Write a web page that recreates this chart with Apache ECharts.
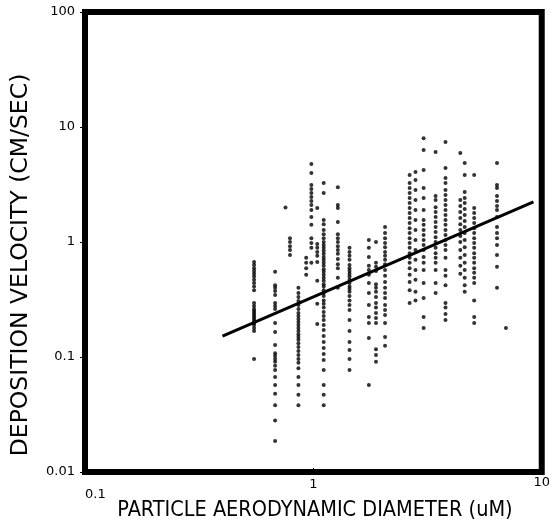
<!DOCTYPE html>
<html>
<head>
<meta charset="utf-8">
<script src="https://cdn.jsdelivr.net/npm/echarts@6/dist/echarts.min.js"></script>
<style>html,body{margin:0;padding:0;background:#fff;}#c{width:553px;height:528px;}</style>
</head>
<body>
<div id="c"></div>
<script>
// Particle aerodynamic diameter (uM) for each column of measurements
const diameters = [0.55, 0.68, 0.79, 0.93, 0.86, 0.755, 0.98, 1.04, 1.11, 1.28, 1.44, 1.75, 1.88, 2.06, 2.64, 2.8, 3.04, 3.43, 3.79, 4.4, 4.6, 5.06, 6.37, 6.97];
// Deposition velocity (cm/sec) values for each column
const velocities = [
  [0.67,0.63,0.59,0.56,0.53,0.50,0.47,0.44,0.41,0.38,0.295,0.277,0.261,0.251,0.241,0.232,0.223,0.214,0.206,0.198,0.19,0.179,0.168,0.096],
  [0.55,0.42,0.40,0.375,0.346,0.295,0.277,0.261,0.198,0.165,0.127,0.108,0.102,0.096,0.091,0.084,0.077,0.067,0.057,0.048,0.038,0.028,0.0186],
  [1.08,1.0,0.92,0.85,0.77],
  [0.73,0.66,0.59,0.52],
  [0.40,0.36,0.333,0.307,0.283,0.261,0.241,0.227,0.214,0.202,0.19,0.179,0.168,0.158,0.149,0.141,0.132,0.122,0.113,0.104,0.096,0.089,0.080,0.067,0.057,0.047,0.038],
  [2.0],
  [4.77,3.98,3.13,2.89,2.67,2.46,2.27,2.10,1.90,1.65,1.41,1.08,0.98,0.89,0.66],
  [1.98,0.96,0.89,0.82,0.76,0.67,0.46,0.29,0.194],
  [3.26,2.67,1.55,1.43,1.27,1.17,1.08,1.0,0.94,0.89,0.84,0.79,0.74,0.70,0.66,0.62,0.58,0.55,0.52,0.49,0.46,0.43,0.41,0.38,0.36,0.34,0.31,0.29,0.27,0.246,0.227,0.21,0.19,0.172,0.152,0.135,0.12,0.106,0.094,0.077,0.057,0.047,0.038],
  [3.0,2.10,1.98,1.49,1.17,1.08,1.0,0.92,0.85,0.79,0.71,0.64,0.59,0.49,0.40],
  [0.89,0.82,0.76,0.70,0.63,0.59,0.56,0.53,0.50,0.47,0.44,0.41,0.39,0.37,0.34,0.31,0.283,0.256,0.21,0.168,0.135,0.115,0.096,0.077],
  [1.04,0.89,0.74,0.62,0.57,0.52,0.44,0.36,0.283,0.223,0.198,0.146,0.057],
  [1.0,0.66,0.61,0.56,0.43,0.40,0.37,0.333,0.295,0.27,0.241,0.218,0.198,0.117,0.104,0.091],
  [1.35,1.2,1.08,0.98,0.90,0.82,0.76,0.70,0.64,0.57,0.51,0.45,0.40,0.36,0.326,0.283,0.256,0.232,0.198,0.149,0.125],
  [3.83,3.26,2.95,2.67,2.41,2.18,1.98,1.79,1.62,1.46,1.32,1.2,1.08,0.98,0.89,0.80,0.73,0.66,0.59,0.52,0.45,0.38,0.295],
  [4.06,3.46,2.83,2.32,1.90,1.55,1.27,1.04,0.85,0.70,0.57,0.47,0.37,0.31],
  [8.0,6.3,4.23,2.95,2.41,1.90,1.55,1.41,1.27,1.15,1.04,0.94,0.85,0.74,0.66,0.57,0.44,0.326,0.223,0.179],
  [6.06,2.51,2.32,2.01,1.82,1.65,1.49,1.35,1.22,1.10,1.0,0.89,0.80,0.73,0.66,0.57,0.44,0.36],
  [7.4,4.4,3.6,3.26,2.83,2.56,2.32,2.10,1.90,1.72,1.55,1.41,1.27,1.15,1.04,0.94,0.85,0.73,0.57,0.51,0.42,0.295,0.27,0.237,0.21],
  [5.94,2.32,2.06,1.82,1.62,1.43,1.27,1.13,1.0,0.85,0.73,0.62,0.53],
  [4.86,3.83,2.72,2.41,2.18,1.94,1.72,1.52,1.35,1.20,1.04,0.90,0.77,0.66,0.57,0.49,0.42,0.37],
  [3.83,1.98,1.79,1.62,1.46,1.32,1.2,1.08,0.98,0.89,0.80,0.73,0.66,0.59,0.54,0.49,0.44,0.31,0.223,0.198],
  [4.86,3.13,2.95,2.51,2.27,2.06,1.90,1.65,1.35,1.2,1.08,0.94,0.77,0.61,0.40],
  [0.179]
];
// Regression line end points
const fitX = [0.4, 9.2];
const fitY = [0.152, 2.23];
// Tick labels
const xTicks = ['0.1', '1', '10'];
const yTicks = ['0.01', '0.1', '1', '10', '100'];

const points = [];
diameters.forEach((d, i) => velocities[i].forEach(v => points.push([d, v])));
const fitLine = fitX.map((x, i) => [x, fitY[i]]);

const chart = echarts.init(document.getElementById('c'), null, {renderer: 'canvas'});
const labelFont = "'DejaVu Sans', sans-serif";
const xTitleFont = "'Liberation Sans Narrow', 'DejaVu Sans Condensed', 'Liberation Sans', sans-serif";
const yTitleFont = "'DejaVu Sans', sans-serif";
function fmt(v) {
  const r = Number(v.toPrecision(3));
  return String(r);
}
chart.setOption({
  animation: false,
  backgroundColor: '#fff',
  grid: {left: 85, top: 12, width: 460, height: 460, show: true, borderWidth: 6, borderColor: '#000', backgroundColor: 'transparent'},
  xAxis: {
    type: 'log', logBase: 10, min: 0.1, max: 10,
    axisLine: {show: false},
    axisTick: {show: true, inside: true, length: 4, lineStyle: {color: '#000', width: 1}},
    splitLine: {show: false},
    minorTick: {show: false},
    axisLabel: {
      color: '#000', fontFamily: labelFont, fontSize: 13, margin: 4,
      alignMinLabel: 'left', alignMaxLabel: 'center',
      formatter: function (v) {
        const s = fmt(v);
        const idx = xTicks.indexOf(s);
        return '{t' + idx + '|' + s + '}';
      },
      rich: {
        t0: {padding: [12, 0, 0, 0], fontSize: 13, fontFamily: labelFont, color: '#000'},
        t1: {padding: [2, 0, 0, 0], fontSize: 13, fontFamily: labelFont, color: '#000'},
        t2: {padding: [0, 0, 0, 0], fontSize: 13, fontFamily: labelFont, color: '#000'}
      }
    }
  },
  yAxis: {
    type: 'log', logBase: 10, min: 0.01, max: 100,
    axisLine: {show: false},
    axisTick: {show: true, inside: false, length: 5, lineStyle: {color: '#000', width: 1}},
    splitLine: {show: false},
    axisLabel: {
      color: '#000', fontFamily: labelFont, fontSize: 13, margin: 10,
      formatter: function (v) { return fmt(v); }
    }
  },
  graphic: [
    {type: 'text', x: 21, y: 265, rotation: Math.PI / 2,
     style: {text: 'DEPOSITION VELOCITY (CM/SEC)', fill: '#000', font: "23.5px " + yTitleFont, align: 'center', verticalAlign: 'middle'}},
    {type: 'text', x: 315, y: 510,
     style: {text: 'PARTICLE AERODYNAMIC DIAMETER (uM)', fill: '#000', font: "21.5px " + xTitleFont, align: 'center', verticalAlign: 'middle'}}
  ],
  series: [
    {type: 'scatter', data: points, symbol: 'circle', symbolSize: 4, itemStyle: {color: '#000'}, silent: true},
    {type: 'line', data: fitLine, symbol: 'none', lineStyle: {color: '#000', width: 3}, silent: true}
  ]
});
</script>
</body>
</html>
